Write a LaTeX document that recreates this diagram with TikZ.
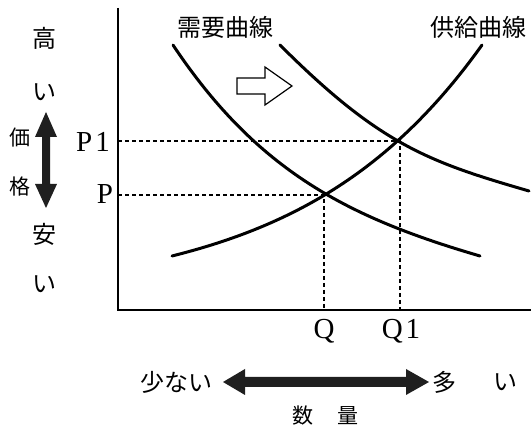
\documentclass[tikz,border=0pt]{standalone}
\usepackage{fontspec}
\setmainfont{Liberation Serif}
\newfontfamily\jfont{Noto Sans CJK JP}
\begin{document}
\begin{tikzpicture}[x=1pt,y=-1pt,
  jp/.style={font=\jfont\fontsize{24}{24}\selectfont, inner sep=0pt, anchor=center},
  jps/.style={font=\jfont\fontsize{21}{21}\selectfont, inner sep=0pt, anchor=center},
  lat/.style={font=\fontsize{29}{29}\selectfont, inner sep=0pt, anchor=center},
  curve/.style={line width=3pt, line cap=round},
  axis/.style={line width=1.6pt},
  guide/.style={line width=1.2pt, dash pattern=on 4pt off 3pt},
  bigarrow/.style={fill=black!88, draw=none}]
\useasboundingbox (0,0) rectangle (531,430);
% axes
\coordinate (ytop) at (118,8);
\coordinate (origin) at (118,310);
\coordinate (xend) at (531,310);
\draw[axis] (ytop) -- (origin) -- (xend);
% equilibrium points
\coordinate (E) at (324,195);
\coordinate (E1) at (400,141);
\coordinate (yP) at (118,195);
\coordinate (yP1) at (118,141);
\coordinate (xQ) at (324,310);
\coordinate (xQ1) at (400,310);
\draw[guide] (yP) -- (E) -- (xQ);
\draw[guide] (yP1) -- (E1) -- (xQ1);
% curves
\coordinate (d1s) at (173,45);
\coordinate (d1e) at (480,256);
\coordinate (d2s) at (280,45);
\coordinate (d2e) at (529,191);
\coordinate (ss) at (172,256);
\coordinate (se) at (482,45);
\draw[curve] (d1s) .. controls (258,172.5) and (350,218) .. (d1e);
\draw[curve] (d2s) .. controls (380,145) and (429,162) .. (d2e);
\draw[curve] (ss) .. controls (292,226) and (392,171) .. (se);
% hollow shift arrow
\draw[line width=1.2pt, fill=white, line join=miter] (237,78) -- (265,78) -- (265,67) -- (292,86) -- (265,105) -- (265,94) -- (237,94) -- cycle;
% labels
\node[jp] (dlab) at (225,27) {需要曲線};
\node[jp] (slab) at (478,27) {供給曲線};
\node[lat] (p1) at (93,142) {P\kern3pt 1};
\node[lat] (p) at (105,194) {P};
\node[lat] (q) at (324,331) {Q};
\node[lat] (q1) at (401,331) {Q\kern3pt 1};
% vertical price arrow
\node[jp] (hi1) at (44,38) {高};
\node[jp] (hi2) at (44,92) {い};
\node[jps] (ka1) at (20,138) {価};
\node[jps] (ka2) at (20,187) {格};
\node[jp] (lo1) at (44,234) {安};
\node[jp] (lo2) at (44,284) {い};
\fill[bigarrow] (46,112) -- (57,137) -- (50,137) -- (50,184) -- (57,184) -- (46,208) -- (35,184) -- (42,184) -- (42,137) -- (35,137) -- cycle;
% horizontal quantity arrow
\node[jp] (few) at (176,382) {少ない};
\node[jp] (many1) at (444,382) {多};
\node[jp] (many2) at (505,382) {い};
\node[jps] (su) at (303,416) {数};
\node[jps] (ryo) at (348,416) {量};
\fill[bigarrow] (223,382) -- (245,369) -- (245,377) -- (406,377) -- (406,369) -- (429,382) -- (406,395) -- (406,387) -- (245,387) -- (245,395) -- cycle;
\end{tikzpicture}
\end{document}
